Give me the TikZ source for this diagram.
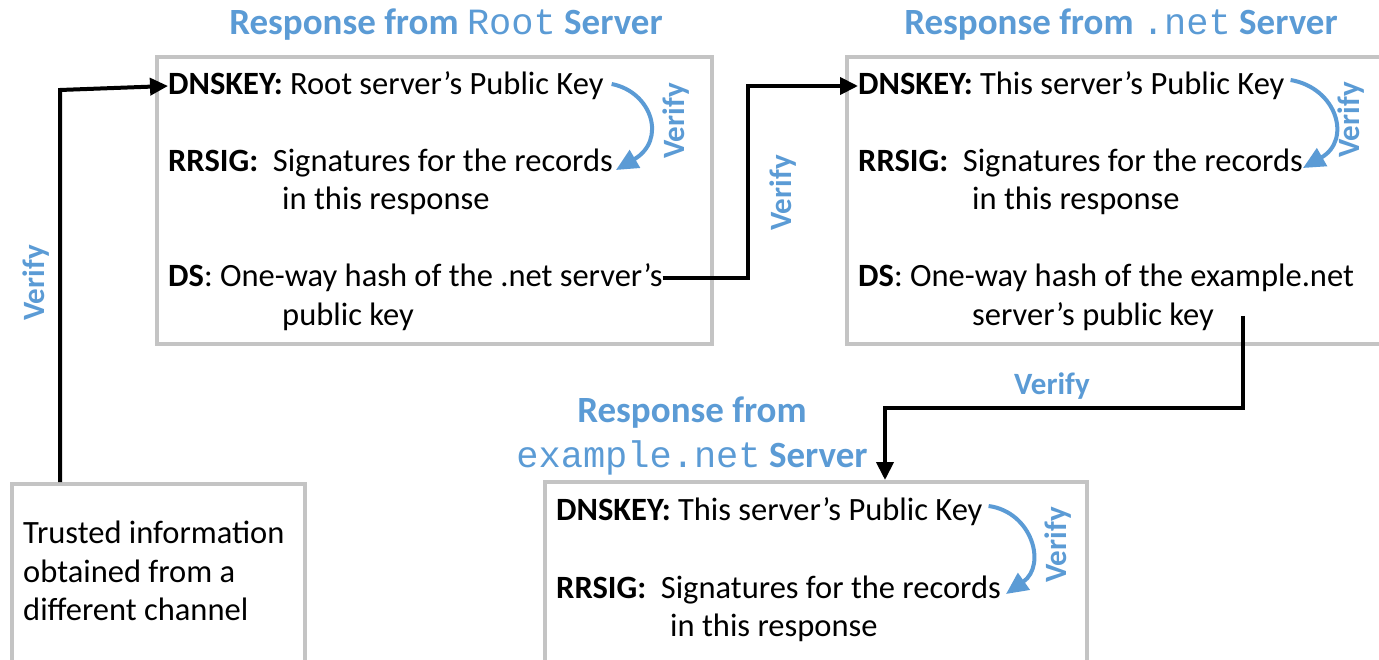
\documentclass[tikz,border=0pt]{standalone}
\usepackage{fontspec}
\setmainfont{Carlito}
\newfontfamily\monof{Liberation Mono}
\usetikzlibrary{arrows.meta}
\definecolor{vblue}{HTML}{5B9BD5}
\definecolor{bgray}{HTML}{C4C4C4}
\begin{document}
\begin{tikzpicture}[x=1pt,y=-1pt,
  box/.style={draw=bgray, line width=4pt, fill=white, anchor=north west, inner sep=0pt},
  txt/.style={anchor=west, inner sep=0pt, font=\fontsize{32.5}{38}\selectfont},
  head/.style={text=vblue, inner sep=0pt, font=\fontsize{37}{42}\selectfont\bfseries},
  ver/.style={text=vblue, inner sep=0pt, font=\fontsize{31}{36}\selectfont\bfseries},
  conn/.style={line width=4pt, -{Triangle[length=18pt,width=17pt]}},
  curv/.style={draw=vblue, line width=4pt, -{Triangle[length=22pt,width=20pt]}}]
\useasboundingbox (0,0) rectangle (1379,660);
% boxes
\node[box, minimum width=555pt, minimum height=287pt] (R) at (155,55) {};
\node[box, minimum width=540pt, minimum height=287pt] (N) at (845,55) {};
\node[box, minimum width=542pt, minimum height=182pt] (E) at (543,480) {};
\node[box, minimum width=293pt, minimum height=182pt] (T) at (10,482) {};
% headings
\node[head] (hR) at (446,25) {Response from {\monof\mdseries Root} Server};
\node[head] (hN) at (1121,25) {Response from {\monof\mdseries .net} Server};
\node[head] (hE1) at (692,413) {Response from};
\node[head] (hE2) at (692,458) {{\monof\mdseries example.net} Server};
% root box text
\node[txt] (r1) at (168,86) {\textbf{DNSKEY:} Root server’s Public Key};
\node[txt] (r2) at (168,163) {\textbf{RRSIG:}\ \ Signatures for the records};
\node[txt] (r3) at (282,201) {in this response};
\node[txt] (r4) at (168,278) {\textbf{DS}: One-way hash of the .net server’s};
\node[txt] (r5) at (282,317) {public key};
% net box text
\node[txt] (n1) at (858,86) {\textbf{DNSKEY:} This server’s Public Key};
\node[txt] (n2) at (858,163) {\textbf{RRSIG:}\ \ Signatures for the records};
\node[txt] (n3) at (972,201) {in this response};
\node[txt] (n4) at (858,278) {\textbf{DS}: One-way hash of the example.net};
\node[txt] (n5) at (972,317) {server’s public key};
% example box text
\node[txt] (e1) at (556,512) {\textbf{DNSKEY:} This server’s Public Key};
\node[txt] (e2) at (556,590) {\textbf{RRSIG:}\ \ Signatures for the records};
\node[txt] (e3) at (670,628) {in this response};
% trusted text
\node[txt, align=left, anchor=north west, font=\fontsize{32.5}{38.5}\selectfont] (t1) at (23,521) {Trusted information\\obtained from a\\different channel};
% verify labels
\node[ver, rotate=90] (v1) at (36,283) {Verify};
\node[ver, rotate=90] (v2) at (783,193) {Verify};
\node[ver] (v3) at (1052,386) {Verify};
\node[ver, rotate=90] (v4) at (676,121) {Verify};
\node[ver, rotate=90] (v5) at (1351,120) {Verify};
\node[ver, rotate=90] (v6) at (1058,545) {Verify};
% connectors
\coordinate (c1) at (60,90);
\draw[conn] (T.north west -| c1) -- (c1) -- (r1.west);
\coordinate (c2) at (748,278);
\draw[conn] (r4.east) -- (c2) -- (c2 |- n1) -- (n1.west);
\coordinate (c3) at (1243,316);
\coordinate (c4) at (885,408);
\draw[conn] (c3) -- (c3 |- c4) -- (c4) -- (c4 |- E.north);
% curved verify arrows
\draw[curv] (r1.east) ++(8,-2) .. controls (652,92) and (667,140) .. (616,170);
\draw[curv] (n1.east) ++(6,-6) .. controls (1337,88) and (1352,140) .. (1303,168);
\draw[curv] (e1.east) ++(6,-6) .. controls (1032,512) and (1047,565) .. (1006,594);
\end{tikzpicture}
\end{document}
